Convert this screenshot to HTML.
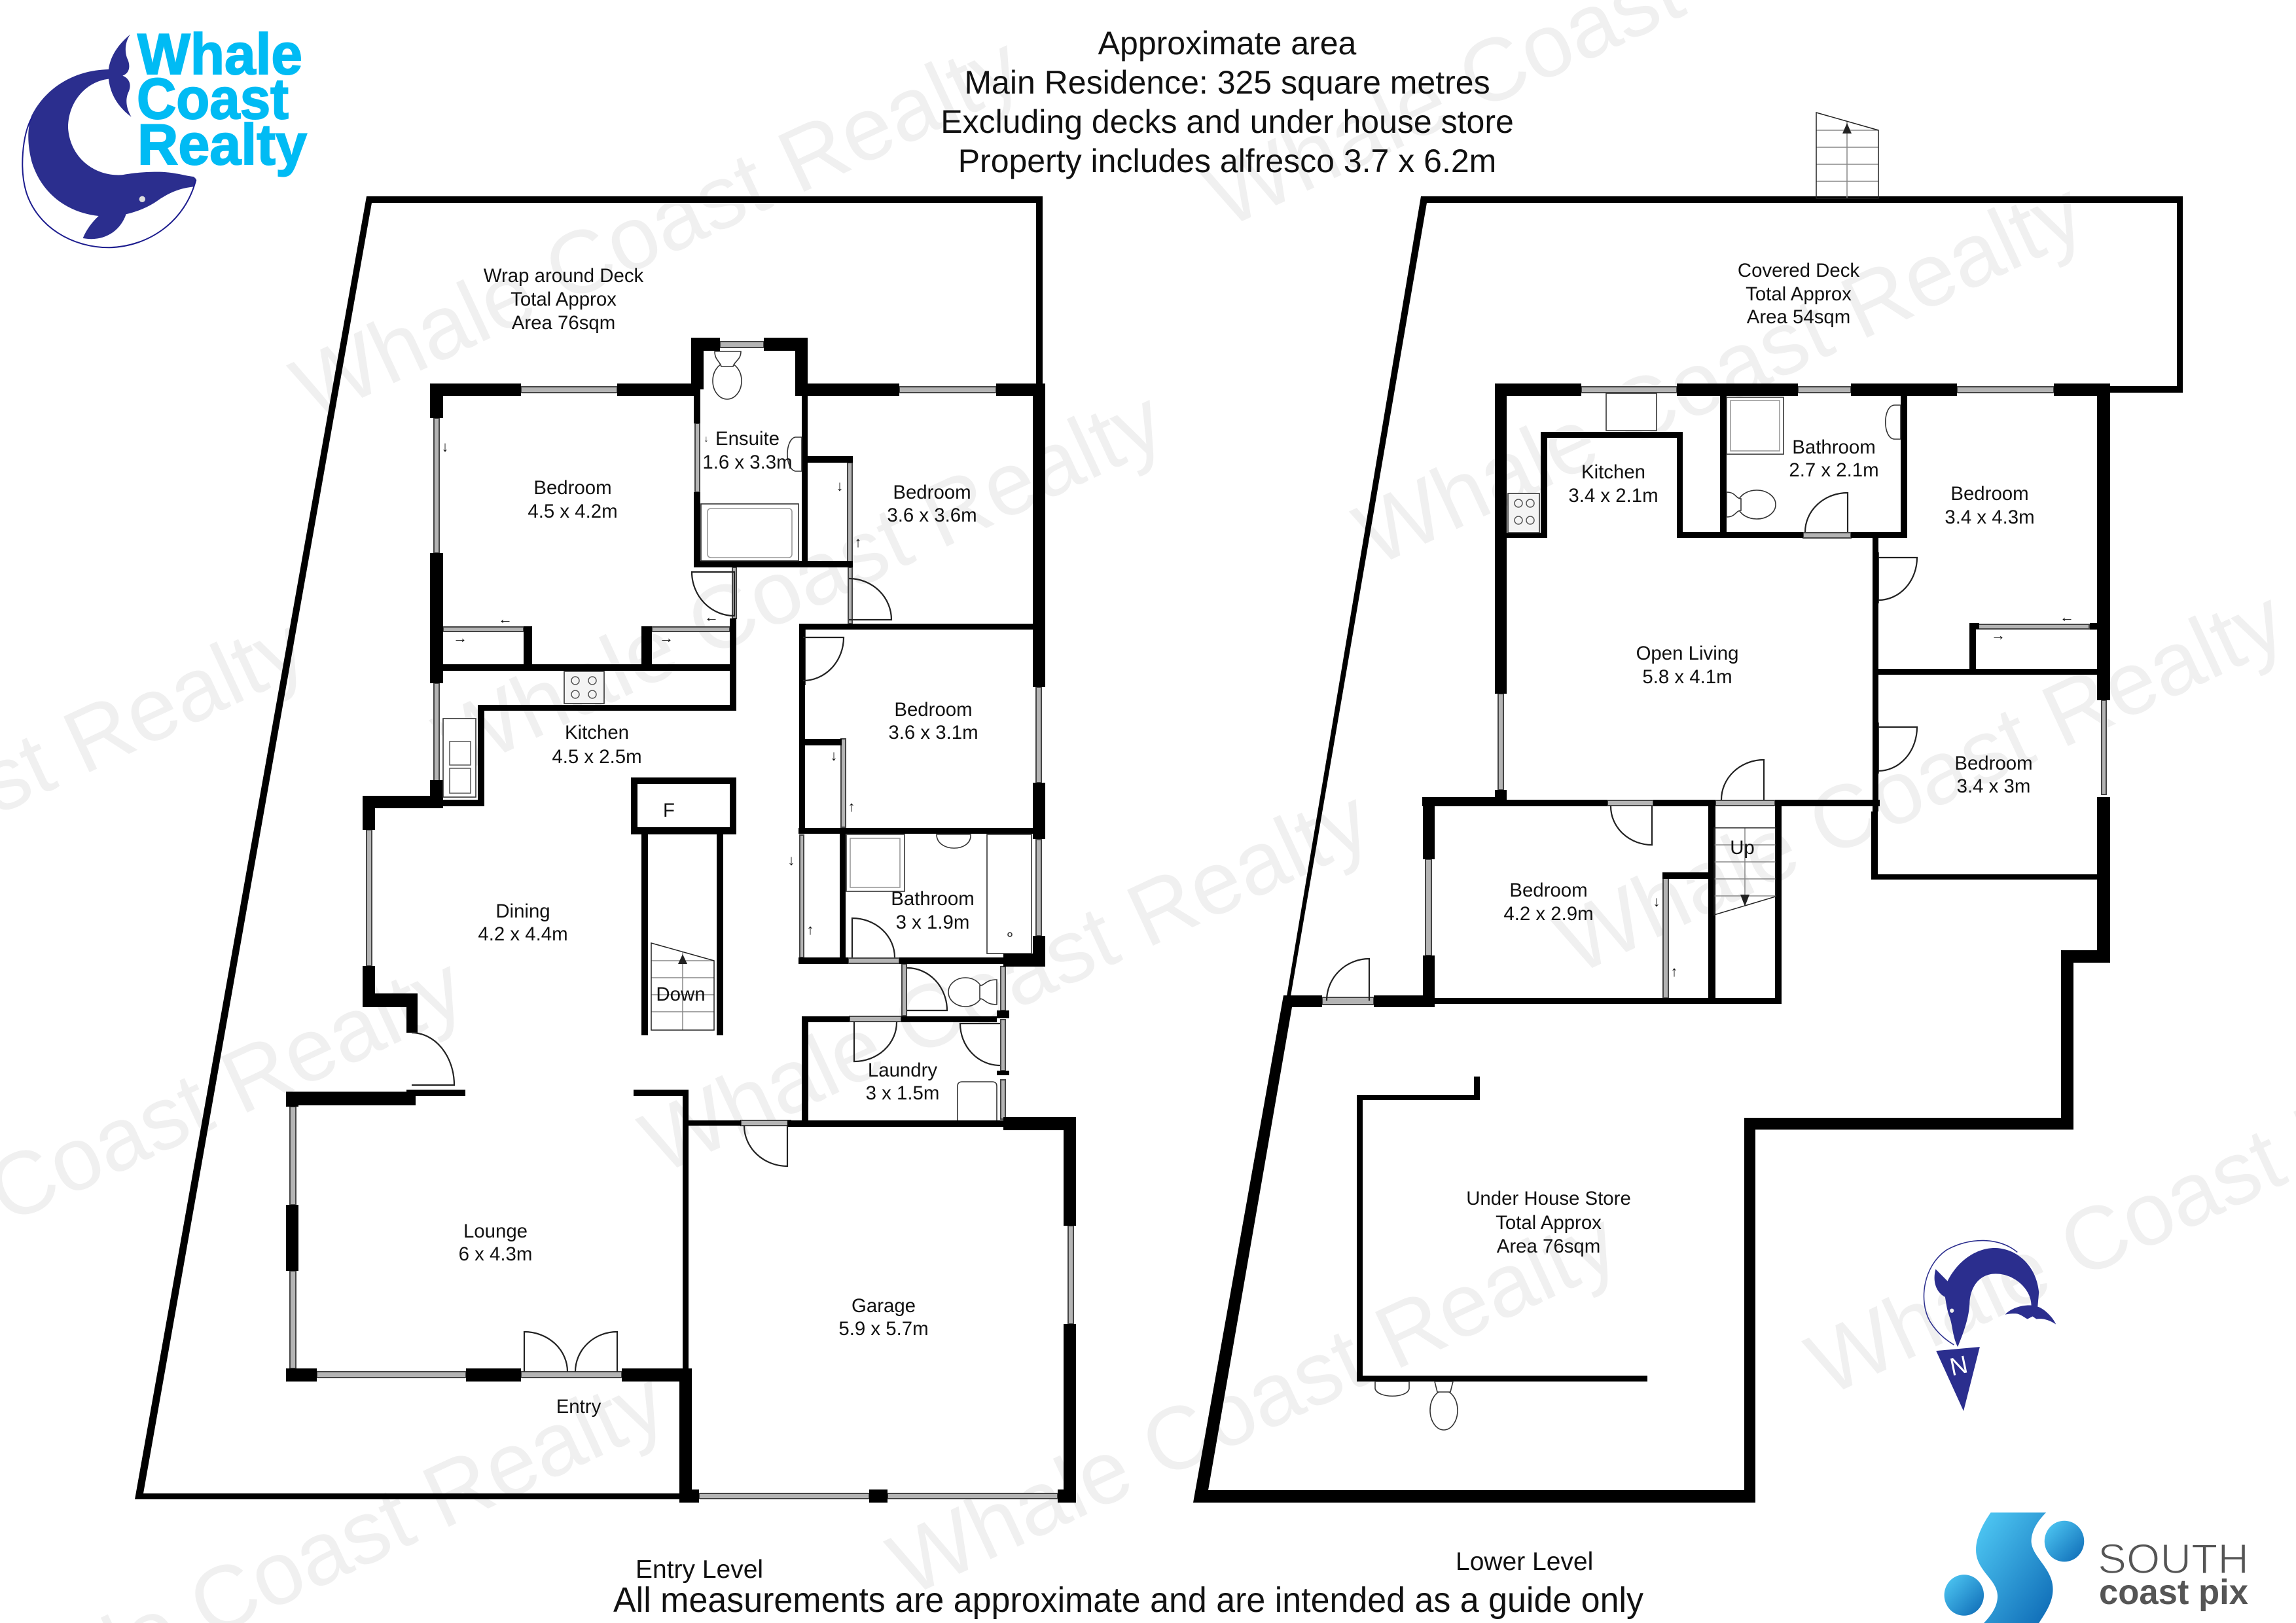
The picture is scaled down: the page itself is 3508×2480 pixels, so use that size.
<!DOCTYPE html>
<html><head><meta charset="utf-8"><title>Floor plan</title>
<style>
html,body{margin:0;padding:0;background:#fff;width:3508px;height:2480px;overflow:hidden}
svg{display:block}
text{font-family:"Liberation Sans",sans-serif}
.wm{font-size:136.5px;fill:#f0f0f0}
.l{font-size:29.4px;fill:#111;text-anchor:middle}
.t{font-size:50px;fill:#111;text-anchor:middle}
.a{font-size:22px;fill:#111;text-anchor:middle}
.win{fill:#b4b4b4;stroke:#444;stroke-width:2}
.d{fill:none;stroke:#222;stroke-width:2.2}
.f{fill:#fff;stroke:#333;stroke-width:1.6}
.g{fill:none;stroke:#888;stroke-width:1.5}
</style></head><body>
<svg xmlns="http://www.w3.org/2000/svg" width="3508" height="2480" viewBox="0 0 3508 2480">
<defs>
<linearGradient id="sg" x1="0" y1="0" x2="1" y2="1"><stop offset="0" stop-color="#52cdf7"/><stop offset="1" stop-color="#0c68b4"/></linearGradient>
</defs>
<rect width="3508" height="2480" fill="#fff"/>

<!-- watermarks -->
<g class="wm">
<text transform="translate(476,644) rotate(-25)">Whale Coast Realty</text>
<text transform="translate(694,1186) rotate(-25)">Whale Coast Realty</text>
<text transform="translate(1872,350) rotate(-25)">Whale Coast Realty</text>
<text transform="translate(2100,867) rotate(-25)">Whale Coast Realty</text>
<text transform="translate(2407,1491) rotate(-25)">Whale Coast Realty</text>
<text transform="translate(1009,1796) rotate(-25)">Whale Coast Realty</text>
<text transform="translate(1388,2441) rotate(-25)">Whale Coast Realty</text>
<text transform="translate(2791,2135) rotate(-25)">Whale Coast Realty</text>
<text transform="translate(-616,1531) rotate(-25)">Whale Coast Realty</text>
<text transform="translate(-375,2051) rotate(-25)">Whale Coast Realty</text>
<text transform="translate(-67,2684) rotate(-25)">Whale Coast Realty</text>
</g>

<!-- windows -->
<g class="win">
<rect x="796" y="591" width="147" height="9"/><rect x="1100" y="522" width="67" height="9"/><rect x="1374" y="591" width="148" height="9"/>
<rect x="663" y="639" width="8" height="206"/><rect x="663" y="1044" width="8" height="150"/><rect x="1583" y="1050" width="8" height="146"/>
<rect x="560" y="1268" width="8" height="208"/><rect x="443" y="1691" width="9" height="150"/><rect x="443" y="1942" width="9" height="149"/>
<rect x="484" y="2096" width="228" height="9"/><rect x="796" y="2096" width="154" height="9"/>
<rect x="1632" y="1873" width="8" height="150"/><rect x="1068" y="2282" width="260" height="8"/><rect x="1356" y="2282" width="260" height="8"/>
<rect x="1132" y="1712" width="76" height="8"/><rect x="1298" y="1553" width="79" height="8"/><rect x="1296" y="1464" width="78" height="8"/>
<rect x="1529" y="1477" width="7" height="67"/><rect x="1529" y="1558" width="7" height="78"/><rect x="1529" y="1650" width="7" height="60"/><rect x="1378" y="1473" width="7" height="79"/>
<rect x="1222" y="1276" width="6" height="187"/><rect x="1583" y="1283" width="8" height="147"/>
<rect x="1062" y="647" width="7" height="105"/><rect x="1295" y="707" width="7" height="151"/><rect x="1296" y="867" width="6" height="86"/>
<rect x="1119" y="867" width="6" height="78"/><rect x="1224" y="962" width="6" height="84"/><rect x="1285" y="1129" width="7" height="135"/>
<rect x="677" y="958" width="123" height="7"/><rect x="996" y="958" width="119" height="7"/>
<!-- right plan -->
<rect x="2416" y="591" width="146" height="9"/><rect x="2747" y="591" width="81" height="9"/><rect x="2990" y="591" width="148" height="9"/>
<rect x="2289" y="1060" width="8" height="147"/><rect x="3211" y="1070" width="7" height="144"/><rect x="2755" y="814" width="73" height="8"/>
<rect x="2864" y="845" width="6" height="76"/><rect x="2864" y="1105" width="6" height="76"/>
<rect x="3020" y="954" width="172" height="7"/><rect x="2456" y="1223" width="70" height="8"/><rect x="2621" y="1223" width="91" height="8"/>
<rect x="2178" y="1313" width="9" height="147"/><rect x="2020" y="1524" width="79" height="11"/><rect x="2541" y="1339" width="8" height="186"/>
</g>

<!-- walls -->
<path fill="#000" d="M560 300H1593V310H568L219 2282H1040V2291H206Z
M1583 300H1593V592H1583Z
M657 586H796V605H657Z M943 586H1056V605H943Z M1056 516H1100V536H1075V595H1070V605H1056Z M1167 516H1234V605H1215V536H1167Z
M1230 586H1374V605H1230Z M1522 586H1597V1050H1578V605H1522Z M1578 1196H1597V1282H1578Z
M657 586H677V639H657Z M657 845H677V1044H657Z M657 1192H677V1235H657Z
M554 1216H671V1235H573V1268H554Z M554 1476H573V1518H638V1578H621V1539H554Z
M437 1668H635V1689H456V1691H437Z M621 1665H711V1675H621Z M437 1841H456V1942H437Z M437 2091H484V2111H437Z M712 2091H796V2111H712Z M950 2091H1057V2296H1038V2111H950Z
M1043 1667H1052V2102H1043Z M968 1665H1052V1675H968Z M1043 1712H1132V1720H1043Z M1203 1712H1538V1722H1203Z
M1533 1707H1644V1873H1625V1727H1533Z M1625 2023H1644V2296H1625Z M1046 2276H1068V2296H1046Z M1328 2276H1356V2296H1328Z M1616 2276H1644V2296H1616Z
M1225 1553H1298V1562H1235V1714H1225Z M1377 1553H1523V1562H1377Z M1523 1544H1542V1556H1523Z M1523 1636H1542V1643H1523Z
M1220 1265H1590V1274H1220Z M1283 1274H1292V1465H1283Z M1220 1463H1296V1473H1220Z M1374 1463H1540V1473H1374Z M1533 1457H1597V1477H1533Z M1578 1430H1597V1477H1578Z
M1221 953H1583V962H1221Z M1221 953H1230V1265H1221Z M1230 1129H1286V1139H1230Z
M1060 595H1070V647H1060Z M1060 752H1070V867H1060Z M1060 857H1303V867H1060Z M1225 605H1234V867H1225Z M1230 697H1303V707H1230Z
M800 957H813V1016H800Z M671 1015H1125V1025H671Z M980 957H996V1016H980Z M1115 945H1125V1083H1115Z M730 1077H1125V1086H730Z M730 1077H740V1232H670V1222H730Z
M964 1188H1125V1198H964Z M964 1264H1125V1275H964Z M964 1188H974V1275H964Z M1115 1188H1125V1275H1115Z
M980 1275H990V1582H980Z M1095 1275H1105V1582H1095Z
M2171 300H3335V600H3208V590H3326V310H2180L1972 1522H1966Z
M1961 1521H2020V1539H1974L1846 2277H2665V1708H3149V1452H3204V1218H3224V1471H3168V1726H2682V2296H1823Z
M2099 1521H2182V1539H2099Z
M2182 1525H2722V1534H2182Z M2174 1460H2192V1539H2174Z M2174 1222H2192V1313H2174Z M2173 1218H2302V1232H2173Z
M2302 1222H2456V1232H2302Z M2526 1222H2621V1232H2526Z M2712 1222H2872V1232H2712Z
M2610 1222H2621V1534H2610Z M2712 1222H2722V1534H2712Z M2540 1333H2612V1343H2540Z
M2284 586H2302V1060H2284Z M2284 1207H2302V1232H2284Z
M2284 586H2416V605H2284Z M2562 586H2747V605H2562Z M2828 586H2990V605H2828Z M3138 586H3214V605H3138Z
M3204 586H3224V1070H3204Z
M2354 660H2571V669H2354Z M2354 660H2364V822H2354Z M2302 814H2364V822H2302Z M2562 660H2571V822H2562Z M2562 813H2755V822H2562Z M2828 813H2914V822H2828Z
M2628 605H2638V815H2628Z M2904 605H2914V822H2904Z
M2861 822H2870V1240H2861Z M2859 1240H2869V1344H2859Z M2859 1336H3210V1344H2859Z M2861 1022H3214V1031H2861Z
M3009 952H3019V1024H3009Z M3009 952H3024V961H3009Z M3193 952H3205V962H3193Z
M2073 1673H2261V1681H2082V2102H2517V2111H2073Z M2252 1645H2261V1681H2252Z"/>

<!-- doors -->
<g class="d">
<path d="M1122 874H1057A65 67 0 0 0 1122 941Z"/>
<path d="M1297 947H1362A65 63 0 0 0 1297 884"/>
<path d="M1227 974H1289A62 66 0 0 1 1227 1040"/>
<path d="M1302 1463V1403A65 60 0 0 1 1367 1463"/>
<path d="M1386 1544H1447A61 65 0 0 0 1386 1479"/>
<path d="M1305 1562V1622A65 60 0 0 0 1370 1562"/>
<path d="M1528 1564H1467A61 64 0 0 0 1528 1628"/>
<path d="M1203 1720V1782A66 62 0 0 1 1137 1720"/>
<path d="M629 1658H694A65 80 0 0 0 629 1578"/>
<path d="M801 2096V2035A66 61 0 0 1 867 2096"/>
<path d="M943 2096V2035A64 61 0 0 0 879 2096"/>
<path d="M2870 852H2929A59 65 0 0 1 2870 917"/>
<path d="M2870 1111H2929A59 67 0 0 1 2870 1178"/>
<path d="M2823 813V753A65 60 0 0 0 2758 813"/>
<path d="M2524 1232V1291A63 59 0 0 1 2461 1232"/>
<path d="M2695 1222V1161A65 61 0 0 0 2630 1222"/>
<path d="M2092 1529V1465A65 64 0 0 0 2027 1529"/>
</g>

<!-- fixtures -->
<g class="f">
<rect x="862" y="1026" width="61" height="49" fill="#f4f4f4"/>
<rect x="677" y="1098" width="50" height="120" fill="#fff"/>
<rect x="1071" y="770" width="149" height="87"/><rect x="1081" y="777" width="129" height="75" rx="5" stroke="#999"/>
<ellipse cx="1111" cy="582" rx="22" ry="28"/><path d="M1092 537H1132C1132 550 1122 552 1120 560L1102 560C1100 552 1092 550 1092 537Z"/>
<path d="M1225 668H1215C1199 672 1199 716 1215 720H1225Z"/>
<rect x="1293" y="1275" width="89" height="87"/><rect x="1299" y="1281" width="76" height="75" stroke="#999"/>
<rect x="1508" y="1275" width="68" height="182"/><circle cx="1543" cy="1428" r="3"/>
<path d="M1431 1275H1483C1485 1303 1431 1303 1431 1275Z"/>
<ellipse cx="1475" cy="1516" rx="26" ry="22"/><path d="M1497 1506C1505 1506 1505 1497 1523 1497V1535C1505 1535 1505 1526 1497 1526Z"/>
<path d="M1463 1712V1660Q1463 1653 1470 1653H1516Q1523 1653 1523 1660V1712"/>
<rect x="2454" y="601" width="77" height="57"/><rect x="2304" y="754" width="48" height="60" fill="#f4f4f4"/>
<rect x="2638" y="607" width="87" height="87"/><rect x="2644" y="612" width="75" height="77" stroke="#999"/>
<path d="M2904 619H2895C2876 619 2876 671 2895 671H2904Z"/>
<ellipse cx="2684" cy="771" rx="29" ry="22"/><path d="M2660 762C2652 762 2652 752 2638 752V790C2652 790 2652 780 2660 780Z"/>
<path d="M2101 2111V2122C2105 2137 2150 2137 2153 2122V2111Z"/>
<ellipse cx="2206" cy="2155" rx="21" ry="30"/><path d="M2192 2111H2220L2216 2127H2196Z"/>
</g>
<g fill="none" stroke="#555" stroke-width="1.5">
<circle cx="879" cy="1040" r="6"/><circle cx="905" cy="1040" r="6"/><circle cx="879" cy="1061" r="6"/><circle cx="905" cy="1061" r="6"/>
<circle cx="2320" cy="769" r="6"/><circle cx="2338" cy="769" r="6"/><circle cx="2320" cy="795" r="6"/><circle cx="2338" cy="795" r="6"/>
<rect x="687" y="1133" width="32" height="36"/><rect x="687" y="1174" width="32" height="38"/>
</g>

<!-- stairs -->
<g class="g" stroke="#777">
<path d="M1043 1455V1574M995 1468H1091M995 1494H1091M995 1520H1091M995 1546H1091"/>
<path d="M2822 186V303M2775 199H2870M2775 225H2870M2775 251H2870M2775 277H2870"/>
<path d="M2666 1265V1385M2619 1291H2713M2619 1317H2713M2619 1343H2713M2619 1369H2713"/>
</g>
<path d="M1043 1458L1036 1473H1050Z M2822 188L2815 204H2829Z M2666 1385L2659 1367H2673Z" fill="#222"/>
<path d="M995 1441L1091 1468V1574H995Z M2775 172L2870 199V303H2775Z M2619 1265H2713V1370L2619 1398Z" fill="none" stroke="#222" stroke-width="1.5"/>

<!-- small arrows -->
<g class="a">
<text x="680" y="690">↓</text><text x="772" y="953">←</text><text x="703" y="982">→</text><text x="1087" y="950">←</text><text x="1018" y="982">→</text>
<text x="1079" y="675" font-size="14">↓</text>
<text x="1283" y="750">↓</text><text x="1311" y="836">↑</text><text x="1274" y="1162">↓</text><text x="1301" y="1240">↑</text>
<text x="1209" y="1322">↓</text><text x="1238" y="1428">↑</text>
<text x="3158" y="950">←</text><text x="3053" y="978">→</text><text x="2531" y="1385">↓</text><text x="2558" y="1492">↑</text>
</g>

<!-- labels -->
<g class="l">
<text x="861" y="431">Wrap around Deck</text><text x="861" y="467">Total Approx</text><text x="861" y="503">Area 76sqm</text>
<text x="875" y="755">Bedroom</text><text x="875" y="791">4.5 x 4.2m</text>
<text x="1142" y="680">Ensuite</text><text x="1142" y="716">1.6 x 3.3m</text>
<text x="1424" y="762">Bedroom</text><text x="1424" y="797">3.6 x 3.6m</text>
<text x="1426" y="1094">Bedroom</text><text x="1426" y="1129">3.6 x 3.1m</text>
<text x="912" y="1129">Kitchen</text><text x="912" y="1166">4.5 x 2.5m</text>
<text x="1022" y="1248">F</text>
<text x="799" y="1402">Dining</text><text x="799" y="1437">4.2 x 4.4m</text>
<text x="1425" y="1383">Bathroom</text><text x="1425" y="1419">3 x 1.9m</text>
<text x="1040" y="1529">Down</text>
<text x="1379" y="1645">Laundry</text><text x="1379" y="1680">3 x 1.5m</text>
<text x="757" y="1891">Lounge</text><text x="757" y="1926">6 x 4.3m</text>
<text x="1350" y="2005">Garage</text><text x="1350" y="2040">5.9 x 5.7m</text>
<text x="884" y="2159">Entry</text>
<text x="2748" y="423">Covered Deck</text><text x="2748" y="459">Total Approx</text><text x="2748" y="494">Area 54sqm</text>
<text x="2465" y="731">Kitchen</text><text x="2465" y="767">3.4 x 2.1m</text>
<text x="2802" y="693">Bathroom</text><text x="2802" y="728">2.7 x 2.1m</text>
<text x="3040" y="764">Bedroom</text><text x="3040" y="800">3.4 x 4.3m</text>
<text x="2578" y="1008">Open Living</text><text x="2578" y="1044">5.8 x 4.1m</text>
<text x="3046" y="1176">Bedroom</text><text x="3046" y="1211">3.4 x 3m</text>
<text x="2662" y="1305">Up</text>
<text x="2366" y="1370">Bedroom</text><text x="2366" y="1406">4.2 x 2.9m</text>
<text x="2366" y="1841">Under House Store</text><text x="2366" y="1878">Total Approx</text><text x="2366" y="1914">Area 76sqm</text>
</g>

<!-- title -->
<g class="t">
<text x="1875" y="83">Approximate area</text>
<text x="1875" y="143">Main Residence: 325 square metres</text>
<text x="1875" y="203">Excluding decks and under house store</text>
<text x="1875" y="263">Property includes alfresco 3.7 x 6.2m</text>
</g>
<text x="971" y="2411" font-size="39" fill="#111">Entry Level</text>
<text x="2224" y="2399" font-size="39" fill="#111">Lower Level</text>
<text x="937" y="2463" font-size="54" fill="#111" textLength="1574" lengthAdjust="spacingAndGlyphs">All measurements are approximate and are intended as a guide only</text>

<!-- whale logo -->
<g transform="scale(.3333)">
<path fill="#2b2e8e" d="M597 158C540 205 505 260 498 318C330 322 205 410 145 530C120 600 130 680 145 740C190 890 310 975 452 990C420 1020 395 1055 380 1092C470 1110 550 1065 578 982C630 970 680 950 725 918C780 880 830 862 890 856L900 822L888 810C840 805 800 788 720 788C650 788 600 795 560 802C430 810 320 720 312 585C312 470 390 375 498 362C505 430 540 490 602 536C575 490 575 450 590 420C605 385 590 358 562 347C595 335 600 300 582 265C570 230 575 190 597 158Z"/>
<circle cx="652" cy="913" r="14" fill="#ddd"/>
<path fill="none" stroke="#1c1c8e" stroke-width="6" d="M148 535C100 620 90 780 120 880C170 1040 330 1135 500 1135C690 1130 850 1010 898 825"/>
</g>
<g font-size="88" font-weight="700" fill="#00bbf4" stroke="#00bbf4" stroke-width="2">
<text x="210" y="113" textLength="252" lengthAdjust="spacingAndGlyphs">Whale</text>
<text x="209" y="181" textLength="232" lengthAdjust="spacingAndGlyphs">Coast</text>
<text x="210" y="251" textLength="259" lengthAdjust="spacingAndGlyphs">Realty</text>
</g>

<!-- compass and south coast pix -->
<g transform="translate(2900,1850) scale(.3878,.4018)">
<path fill="#2b2e8e" d="M235 518C215 480 215 440 205 410C190 370 190 350 185 328C150 310 135 270 148 222L195 268C235 190 310 140 385 142C470 145 545 210 555 310L550 365C575 372 610 405 622 432C595 415 570 408 545 412L530 402L510 412C495 405 490 398 470 392C450 390 430 393 422 395C445 370 490 358 525 360C525 300 460 240 385 240C320 240 285 290 282 350C280 410 255 470 235 518Z"/>
<circle cx="212" cy="380" r="8" fill="#eee"/>
<path fill="none" stroke="#2b2e8e" stroke-width="4" d="M470 158C400 100 280 100 190 150C100 210 80 340 125 420C150 460 185 490 220 510"/>
<path fill="#2b2e8e" d="M150 533L322 518L258 762Z"/>
<text transform="translate(212,628) rotate(-12)" font-size="95" fill="#fff">N</text>
<path fill="url(#sg)" d="M365 1148L583 1148C540 1190 525 1225 525 1260C530 1320 610 1360 610 1440C610 1490 580 1530 555 1568L338 1568C375 1530 392 1500 392 1465C390 1400 307 1370 307 1290C307 1240 335 1190 365 1148Z"/>
<circle cx="655" cy="1257" r="78" fill="url(#sg)"/>
<circle cx="260" cy="1462" r="78" fill="url(#sg)"/>
</g>
<text x="3205" y="2404" font-size="64" fill="#555" stroke="#fff" stroke-width="1.6" textLength="231" lengthAdjust="spacingAndGlyphs">SOUTH</text>
<text x="3207" y="2451" font-size="54" font-weight="700" fill="#555" textLength="228" lengthAdjust="spacingAndGlyphs">coast pix</text>
</svg>
</body></html>
